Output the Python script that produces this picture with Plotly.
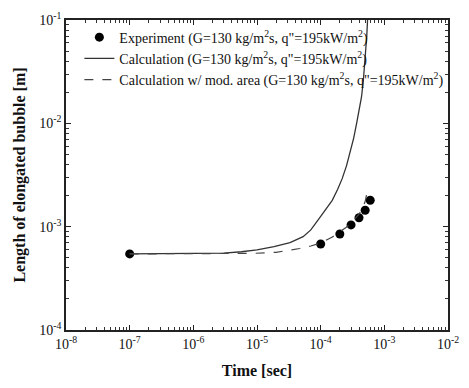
import plotly.graph_objects as go

# Experimental data
exp_time = [1e-7, 1.0e-4, 2.0e-4, 3.0e-4, 4.0e-4, 5.0e-4, 6.0e-4]
exp_len = [5.45e-4, 6.8e-4, 8.5e-4, 1.04e-3, 1.22e-3, 1.44e-3, 1.8e-3]

# Calculation
calc_time = [1e-7, 3e-7, 1e-6, 3e-6, 5.7e-6, 1.0e-5, 1.85e-5, 3.3e-5, 5.3e-5, 7.0e-5, 9.5e-5,
             1.25e-4, 1.52e-4, 1.85e-4, 2.17e-4, 2.55e-4, 2.9e-4, 3.3e-4, 3.67e-4, 4.05e-4,
             4.38e-4, 4.68e-4, 4.92e-4, 5.15e-4, 5.3e-4, 5.45e-4]
calc_len = [5.45e-4, 5.46e-4, 5.48e-4, 5.55e-4, 5.72e-4, 5.95e-4, 6.4e-4, 7.0e-4, 8.0e-4, 9.3e-4, 1.2e-3,
            1.5e-3, 1.8e-3, 2.3e-3, 2.9e-3, 3.9e-3, 5.2e-3, 7.2e-3, 1.0e-2, 1.35e-2,
            1.8e-2, 2.6e-2, 3.7e-2, 5.2e-2, 7.0e-2, 1.0e-1]

# Calculation with modified area
mod_time = [1e-7, 1e-6, 3e-6, 9e-6, 2e-5, 3.3e-5, 4.7e-5, 7e-5, 1.0e-4, 1.5e-4, 2.0e-4, 2.5e-4, 3.0e-4,
            3.5e-4, 4.0e-4, 4.5e-4, 5.0e-4, 5.4e-4]
mod_len = [5.45e-4, 5.45e-4, 5.47e-4, 5.52e-4, 5.65e-4, 5.9e-4, 6.15e-4, 6.5e-4, 6.95e-4, 7.9e-4, 8.85e-4,
           9.8e-4, 1.08e-3, 1.19e-3, 1.32e-3, 1.5e-3, 1.75e-3, 2.2e-3]

x_tickvals = [1e-8, 1e-7, 1e-6, 1e-5, 1e-4, 1e-3, 1e-2]
x_ticktext = ["10<sup>-8</sup>", "10<sup>-7</sup>", "10<sup>-6</sup>", "10<sup>-5</sup>",
              "10<sup>-4</sup>", "10<sup>-3</sup>", "10<sup>-2</sup>"]
y_tickvals = [1e-4, 1e-3, 1e-2, 1e-1]
y_ticktext = ["10<sup>-4</sup>", "10<sup>-3</sup>", "10<sup>-2</sup>", "10<sup>-1</sup>"]

x_minor = [m * 10.0 ** e for e in range(-8, -2) for m in range(2, 10)]
y_minor = [m * 10.0 ** e for e in range(-4, -1) for m in range(2, 10)]

cond = " (G=130 kg/m<sup>2</sup>s, q\"=195kW/m<sup>2</sup>)"

fig = go.Figure()
fig.add_trace(go.Scatter(x=exp_time, y=exp_len, mode="markers", name="Experiment" + cond,
                         marker=dict(color="black", size=9, symbol="circle")))
fig.add_trace(go.Scatter(x=calc_time, y=calc_len, mode="lines", name="Calculation" + cond,
                         line=dict(color="#333333", width=1.3)))
fig.add_trace(go.Scatter(x=mod_time, y=mod_len, mode="lines", name="Calculation w/ mod. area" + cond,
                         line=dict(color="#444444", width=1.2, dash="dash")))

font_family = "Liberation Serif, Times New Roman, serif"
axis_common = dict(type="log", showgrid=False, zeroline=False, showline=True, linecolor="#222",
                   linewidth=1.5, mirror="allticks", ticks="inside", ticklen=5, tickcolor="#222",
                   tickfont=dict(family=font_family, size=14, color="#111"))

fig.update_xaxes(range=[-8, -2], tickmode="array", tickvals=x_tickvals, ticktext=x_ticktext,
                 minor=dict(tickmode="array", tickvals=x_minor, ticks="inside", ticklen=3,
                            tickcolor="#333", showgrid=False),
                 title=dict(text="<b>Time [sec]</b>", font=dict(family=font_family, size=16, color="#111"),
                            standoff=14),
                 **axis_common)
fig.update_yaxes(range=[-4, -1], tickmode="array", tickvals=y_tickvals, ticktext=y_ticktext,
                 minor=dict(tickmode="array", tickvals=y_minor, ticks="inside", ticklen=3,
                            tickcolor="#333", showgrid=False),
                 title=dict(text="<b>Length of elongated bubble [m]</b>",
                            font=dict(family=font_family, size=16, color="#111"), standoff=10),
                 **axis_common)

fig.update_layout(
    width=469, height=388,
    margin=dict(l=66, r=10, t=15, b=58),
    paper_bgcolor="white", plot_bgcolor="white",
    font=dict(family=font_family, color="#111"),
    legend=dict(x=0.035, y=0.995, xanchor="left", yanchor="top", bgcolor="rgba(0,0,0,0)",
                font=dict(family=font_family, size=14, color="#111"), tracegroupgap=0,
                itemwidth=30),
)

fig.write_html("out.html")
